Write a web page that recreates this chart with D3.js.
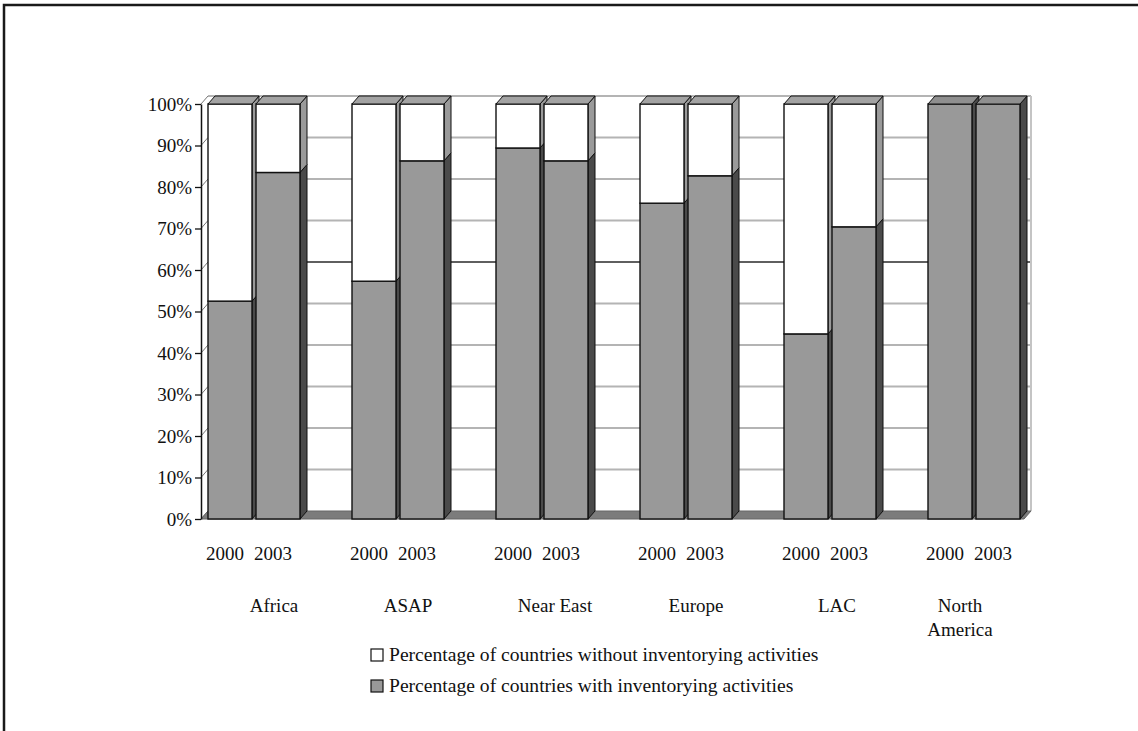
<!DOCTYPE html>
<html>
<head>
<meta charset="utf-8">
<script src="https://cdn.jsdelivr.net/npm/d3@7"></script>
<style>
  html, body { margin: 0; padding: 0; background: #fff; }
  svg text { font-family: "Liberation Serif", "Times New Roman", serif; fill: #111; }
</style>
</head>
<body>
<svg id="chart" width="1138" height="731"></svg>
<script>
// Regions and survey years
const regions = ["Africa", "ASAP", "Near East", "Europe", "LAC", "North America"];
const years = ["2000", "2003"];

// Share of countries (%) with inventorying activities, per region: [2000, 2003]
const withInventory = [
  [52.5, 83.5],
  [57.3, 86.3],
  [89.4, 86.3],
  [76.1, 82.7],
  [44.6, 70.4],
  [100, 100]
];
// Share of countries (%) without inventorying activities, per region: [2000, 2003]
const withoutInventory = [
  [47.5, 16.5],
  [42.7, 13.7],
  [10.6, 13.7],
  [23.9, 17.3],
  [55.4, 29.6],
  [0, 0]
];

const yTicks = [0, 10, 20, 30, 40, 50, 60, 70, 80, 90, 100];
const legendLabels = [
  "Percentage of countries without inventorying activities",
  "Percentage of countries with inventorying activities"
];

// ---- layout ----
const svg = d3.select("#chart");
const depthX = 7, depthY = -8;          // oblique offset of the 3-D depth
const axisX = 201;                        // front-left corner of the floor
const slotsPerRegion = 3;                 // two bars plus an empty spacer slot
const slotCount = regions.length * slotsPerRegion - 1;
const fontSize = 19;

const y = d3.scaleLinear().domain([0, 100]).range([519, 104]);
const slot = d3.scaleBand()
  .domain(d3.range(slotCount))
  .range([206, 1022])
  .paddingInner(0).paddingOuter(0);
const barInset = 2;
const barW = slot.bandwidth() - 4;
const plotRight = slot.range()[1] + 2;

const poly = pts => "M" + pts.map(p => p[0] + "," + p[1]).join("L") + "Z";

// outer frame
svg.append("rect")
  .attr("x", 4).attr("y", 5).attr("width", 1200).attr("height", 800)
  .attr("fill", "none").attr("stroke", "#1a1a1a").attr("stroke-width", 2.5);

// ---- walls and floor ----
const gWall = svg.append("g");
const backL = axisX + depthX, backR = plotRight + depthX;

// back wall
gWall.append("rect")
  .attr("x", backL).attr("y", y(100) + depthY)
  .attr("width", backR - backL).attr("height", y(0) - y(100))
  .attr("fill", "#fff");

// back-wall gridlines
gWall.selectAll(".grid").data(yTicks.filter(d => d > 0)).join("line")
  .attr("x1", backL).attr("x2", backR)
  .attr("y1", d => y(d) + depthY).attr("y2", d => y(d) + depthY)
  .attr("stroke", d => d === 60 ? "#2a2a2a" : "#b4b4b4")
  .attr("stroke-width", d => d === 60 ? 1.5 : 2);

// right edge of back wall
gWall.append("line")
  .attr("x1", backR).attr("x2", backR)
  .attr("y1", y(100) + depthY).attr("y2", y(0) + depthY)
  .attr("stroke", "#c4c4c4").attr("stroke-width", 2);

// side-wall gridlines (short diagonals next to the axis)
gWall.selectAll(".sgrid").data(yTicks).join("line")
  .attr("x1", axisX).attr("x2", backL)
  .attr("y1", d => y(d)).attr("y2", d => y(d) + depthY)
  .attr("stroke", "#777").attr("stroke-width", 1);

// floor
gWall.append("path")
  .attr("d", poly([[axisX, y(0)], [plotRight, y(0)], [plotRight + depthX, y(0) + depthY], [backL, y(0) + depthY]]))
  .attr("fill", "#7c7c7c").attr("stroke", "#666").attr("stroke-width", 1);

// ---- bars ----
const bars = [];
regions.forEach((r, gi) => {
  years.forEach((yr, yi) => {
    bars.push({
      slotIndex: gi * slotsPerRegion + yi,
      year: yr,
      segments: [
        { from: 0, to: withInventory[gi][yi], front: "#999999", side: "#4a4a4a", top: "#8f8f8f" },
        { from: withInventory[gi][yi], to: withInventory[gi][yi] + withoutInventory[gi][yi], front: "#ffffff", side: "#9a9a9a", top: "#a3a3a3" }
      ].filter(s => s.to > s.from)
    });
  });
});

const gBars = svg.append("g");
bars.forEach(b => {
  const x0 = slot(b.slotIndex) + barInset, x1 = x0 + barW;
  const g = gBars.append("g");
  b.segments.forEach(s => {
    g.append("path")
      .attr("d", poly([[x1, y(s.to)], [x1 + depthX, y(s.to) + depthY], [x1 + depthX, y(s.from) + depthY], [x1, y(s.from)]]))
      .attr("fill", s.side).attr("stroke", "#111").attr("stroke-width", 1)
      .attr("stroke-linejoin", "round");
  });
  b.segments.forEach(s => {
    g.append("rect")
      .attr("x", x0).attr("y", y(s.to))
      .attr("width", barW).attr("height", y(s.from) - y(s.to))
      .attr("fill", s.front).attr("stroke", "#111").attr("stroke-width", 1.4);
  });
  const topSeg = b.segments[b.segments.length - 1];
  g.append("path")
    .attr("d", poly([[x0, y(topSeg.to)], [x0 + depthX, y(topSeg.to) + depthY], [x1 + depthX, y(topSeg.to) + depthY], [x1, y(topSeg.to)]]))
    .attr("fill", topSeg.top).attr("stroke", "#111").attr("stroke-width", 1)
    .attr("stroke-linejoin", "round");
});

// ---- y axis ----
const yAxis = d3.axisLeft(y)
  .tickValues(yTicks)
  .tickFormat(d => d + "%")
  .tickSize(6).tickSizeOuter(0).tickPadding(3);
const gAxis = svg.append("g").attr("transform", `translate(${axisX},0)`).call(yAxis);
gAxis.select(".domain").attr("stroke", "#111").attr("stroke-width", 1.5);
gAxis.selectAll(".tick line").attr("stroke", "#111").attr("stroke-width", 1.3);
gAxis.selectAll(".tick text")
  .attr("font-family", "Liberation Serif, serif")
  .attr("font-size", fontSize).attr("fill", "#111");

// ---- category labels ----
const gCat = svg.append("g").attr("font-size", fontSize).attr("text-anchor", "middle");
const yearLabelShift = -5;
gCat.selectAll(".year").data(bars).join("text")
  .attr("x", b => slot(b.slotIndex) + slot.bandwidth() / 2 + yearLabelShift)
  .attr("y", 560)
  .text(b => b.year);

// region names sit under each pair of bars, as laid out by the source spreadsheet
const regionNudge = [20, 10, 13, 10, 7, -14];
regions.forEach((r, gi) => {
  const cx = slot(gi * slotsPerRegion + 1) + regionNudge[gi];
  const words = r === "North America" ? ["North", "America"] : [r];
  const t = gCat.append("text").attr("x", cx).attr("y", 612);
  words.forEach((w, wi) => {
    t.append("tspan").attr("x", cx).attr("dy", wi === 0 ? 0 : 24).text(w);
  });
});

// ---- legend ----
const legendFills = ["#ffffff", "#999999"];
const gLeg = svg.append("g");
legendLabels.forEach((lab, i) => {
  const cy = 655 + i * 31;
  gLeg.append("rect")
    .attr("x", 371).attr("y", cy - 6).attr("width", 12).attr("height", 12)
    .attr("fill", legendFills[i]).attr("stroke", "#111").attr("stroke-width", 1.2);
  gLeg.append("text")
    .attr("x", 389).attr("y", cy + 6)
    .attr("font-size", 19.6)
    .text(lab);
});
</script>
</body>
</html>
